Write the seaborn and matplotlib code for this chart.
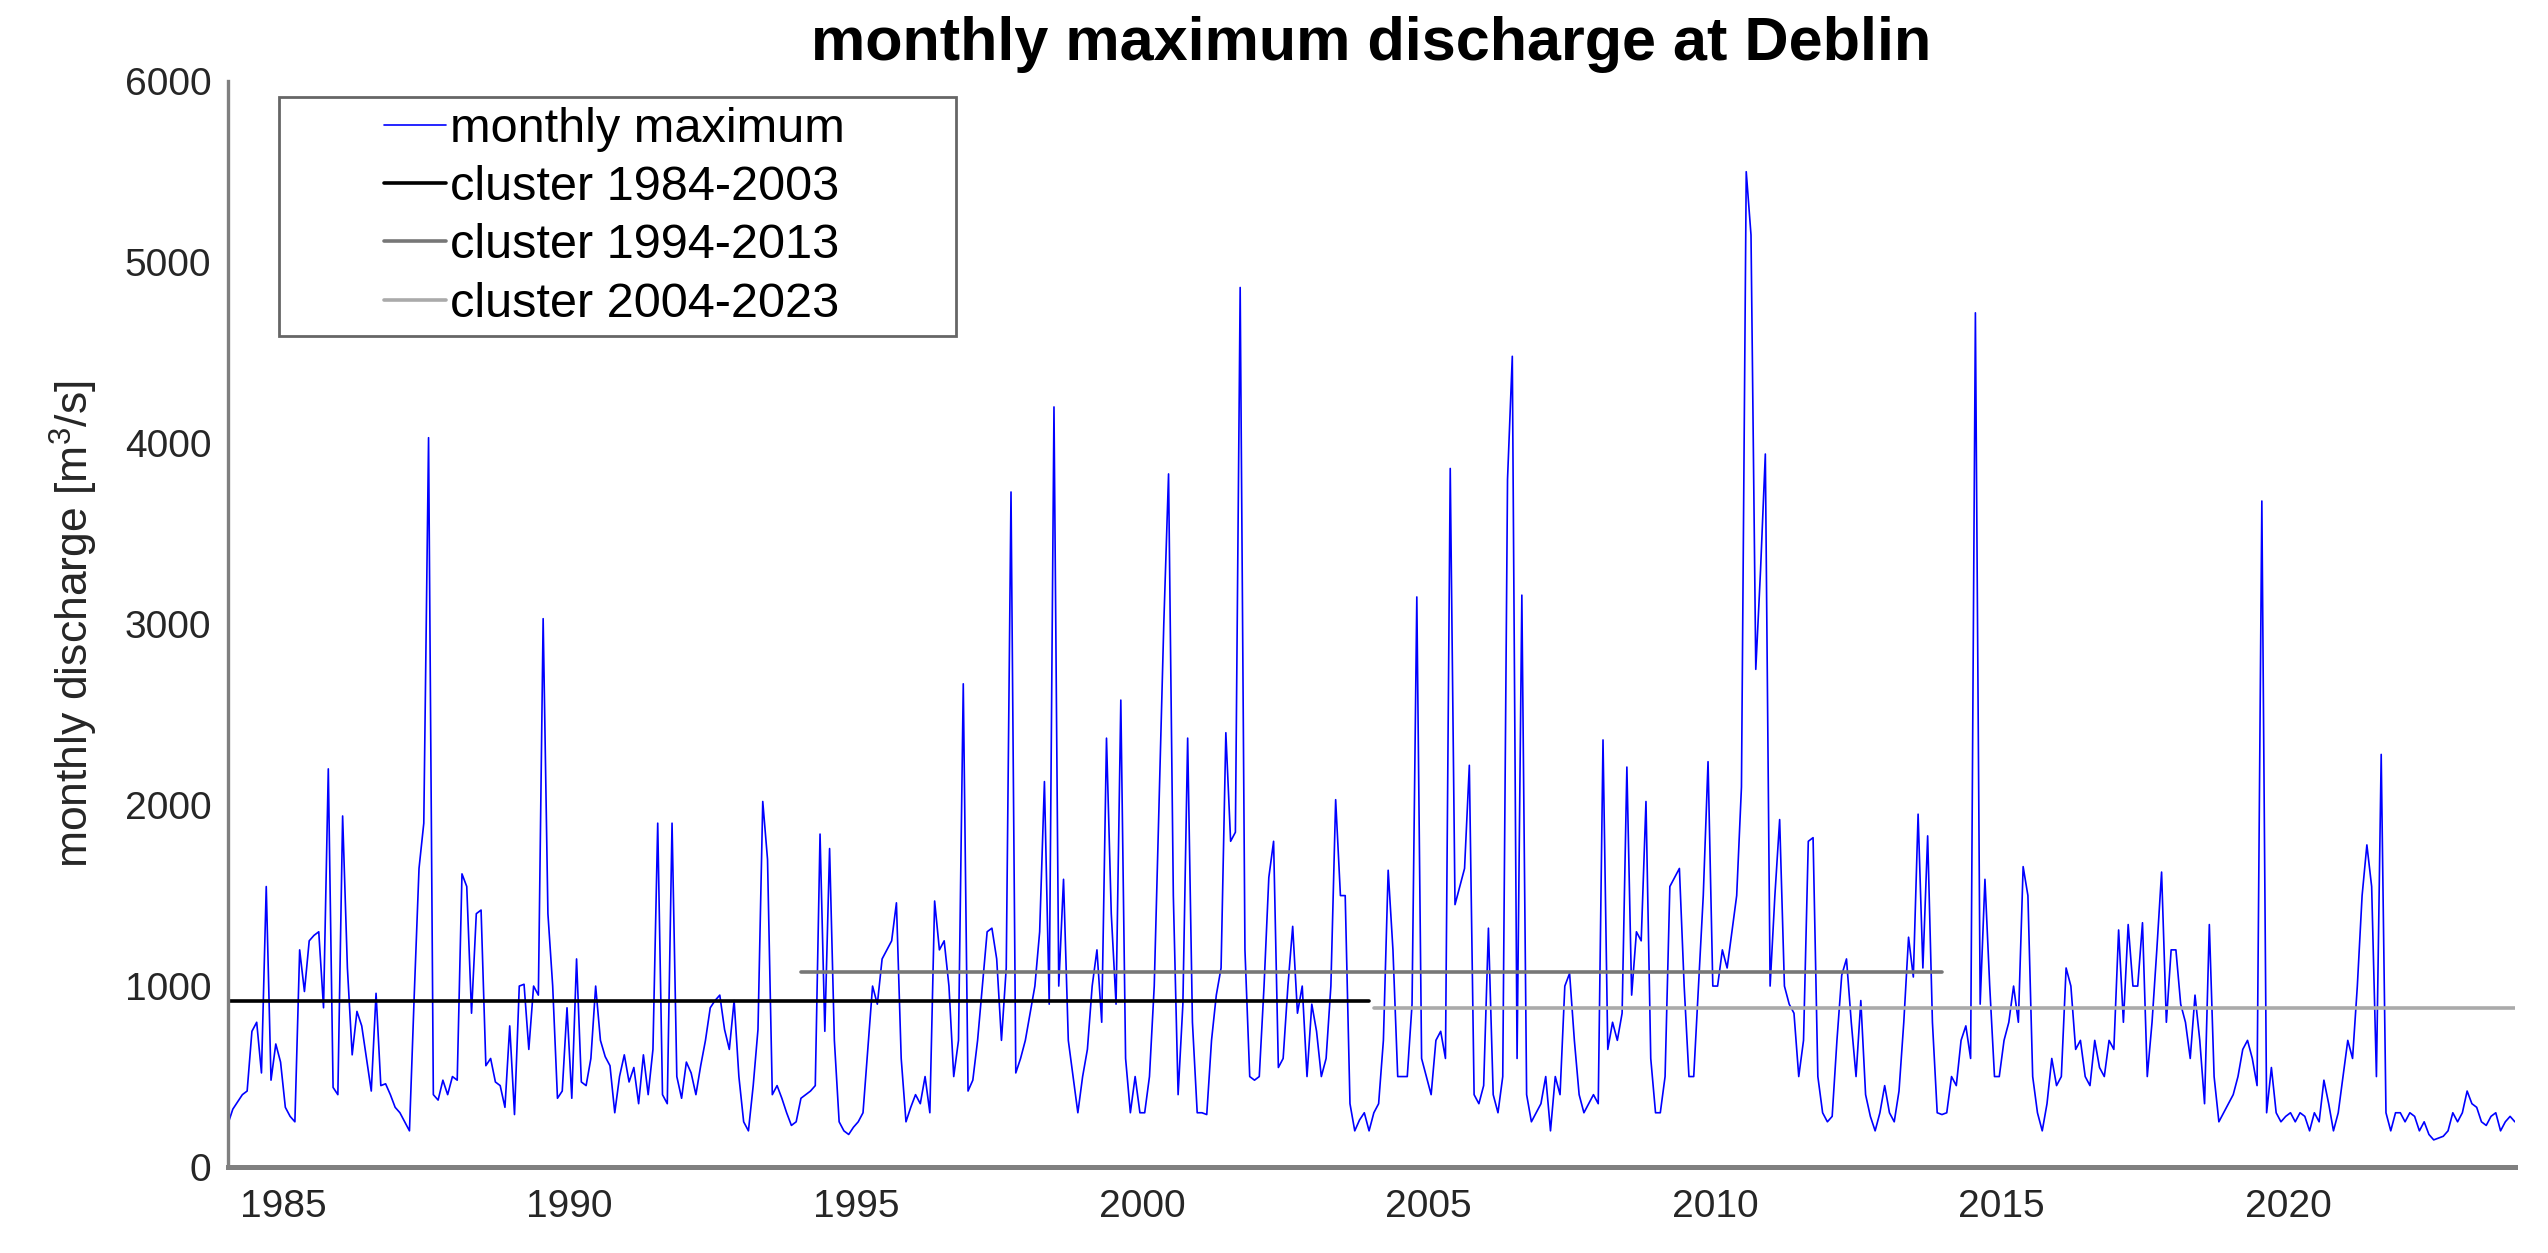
import numpy as np
import pandas as pd
import matplotlib
matplotlib.use("Agg")
import matplotlib.pyplot as plt
import seaborn as sns
from matplotlib.legend_handler import HandlerLine2D

# --- DATA: monthly maximum discharge at Deblin [m3/s], one row per year ---
q_1984_1993 = [
    240, 320, 360, 400, 420, 750, 800, 520, 1550, 480, 680, 580,
    330, 280, 250, 1200, 970, 1250, 1280, 1300, 880, 2200, 440, 400,
    1940, 1100, 620, 860, 780, 600, 420, 960, 450, 460, 400, 330,
    300, 250, 200, 950, 1650, 1900, 4030, 400, 370, 480, 400, 500,
    480, 1620, 1550, 850, 1400, 1420, 560, 600, 470, 450, 330, 780,
    290, 1000, 1010, 650, 1000, 950, 3030, 1400, 1000, 380, 420, 880,
    380, 1150, 470, 450, 600, 1000, 700, 610, 560, 300, 500, 620,
    470, 550, 350, 620, 400, 650, 1900, 400, 350, 1900, 500, 380,
    580, 520, 400, 560, 700, 880, 920, 950, 760, 650, 920, 500,
    250, 200, 450, 760, 2020, 1700, 400, 450, 380, 300, 230, 250,
]
q_1994_2003 = [
    380, 400, 420, 450, 1840, 750, 1760, 700, 250, 200, 180, 220,
    250, 300, 650, 1000, 900, 1150, 1200, 1250, 1460, 600, 250, 330,
    400, 350, 500, 300, 1470, 1200, 1250, 1000, 500, 700, 2670, 420,
    480, 700, 1000, 1300, 1320, 1150, 700, 1100, 3730, 520, 600, 700,
    850, 1000, 1300, 2130, 900, 4200, 1000, 1590, 700, 500, 300, 500,
    650, 1000, 1200, 800, 2370, 1400, 900, 2580, 600, 300, 500, 300,
    300, 500, 1000, 2000, 3000, 3830, 1500, 400, 900, 2370, 800, 300,
    300, 290, 700, 950, 1100, 2400, 1800, 1850, 4860, 1200, 500, 480,
    500, 1000, 1600, 1800, 550, 600, 1000, 1330, 850, 1000, 500, 900,
    750, 500, 600, 1000, 2030, 1500, 1500, 350, 200, 260, 300, 200,
]
q_2004_2013 = [
    300, 350, 700, 1640, 1200, 500, 500, 500, 900, 3150, 600, 500,
    400, 700, 750, 600, 3860, 1450, 1550, 1650, 2220, 400, 350, 450,
    1320, 400, 300, 500, 3800, 4480, 600, 3160, 400, 250, 300, 350,
    500, 200, 500, 400, 1000, 1070, 700, 400, 300, 350, 400, 350,
    2360, 650, 800, 700, 850, 2210, 950, 1300, 1250, 2020, 600, 300,
    300, 500, 1550, 1600, 1650, 1000, 500, 500, 1000, 1500, 2240, 1000,
    1000, 1200, 1100, 1300, 1500, 2100, 5500, 5150, 2750, 3300, 3940, 1000,
    1500, 1920, 1000, 900, 850, 500, 700, 1800, 1820, 500, 300, 250,
    280, 700, 1060, 1150, 800, 500, 920, 400, 280, 200, 300, 450,
    300, 250, 420, 800, 1270, 1050, 1950, 1100, 1830, 800, 300, 290,
]
q_2014_2023 = [
    300, 500, 450, 700, 780, 600, 4720, 900, 1590, 1000, 500, 500,
    700, 800, 1000, 800, 1660, 1500, 500, 300, 200, 350, 600, 450,
    500, 1100, 1000, 650, 700, 500, 450, 700, 550, 500, 700, 650,
    1310, 800, 1340, 1000, 1000, 1350, 500, 800, 1200, 1630, 800, 1200,
    1200, 900, 800, 600, 950, 700, 350, 1340, 500, 250, 300, 350,
    400, 500, 650, 700, 600, 450, 3680, 300, 550, 300, 250, 280,
    300, 250, 300, 280, 200, 300, 250, 480, 350, 200, 300, 500,
    700, 600, 1000, 1500, 1780, 1550, 500, 2280, 300, 200, 300, 300,
    250, 300, 280, 200, 250, 180, 150, 160, 170, 200, 300, 250,
    300, 420, 350, 330, 250, 230, 280, 300, 200, 250, 280, 250,
]

first_year = 1984
last_year = 2023

# cluster mean levels
cluster_labels = ["cluster 1984-2003", "cluster 1994-2013", "cluster 2004-2023"]
cluster_start = [1984, 1994, 2004]
cluster_end = [2003, 2013, 2023]
cluster_level = [915, 1075, 880]
cluster_colors = ["black", "#777777", "#aaaaaa"]

# --- BUILD TABLES ---
discharge = q_1984_1993 + q_1994_2003 + q_2004_2013 + q_2014_2023
years = np.arange(first_year, last_year + 1)
df = pd.DataFrame({
    "year": np.repeat(years, 12),
    "month": np.tile(np.arange(12), len(years)),
    "q": discharge,
})
df["t"] = df["year"] + (df["month"] + 0.5) / 12

# --- PLOT ---
sns.set_theme(style="white")
plt.rcParams["font.family"] = ["Liberation Sans", "DejaVu Sans"]
plt.rcParams["mathtext.fontset"] = "custom"
plt.rcParams["mathtext.rm"] = "Liberation Sans"

fig = plt.figure(figsize=(12.74, 6.265), dpi=200)
ax = fig.add_axes([0.0895, 0.0686, 0.8975, 0.8666])

sns.lineplot(data=df, x="t", y="q", color="blue", linewidth=0.6,
             label="monthly maximum", ax=ax)

for lab, y0, y1, lev, col in zip(cluster_labels, cluster_start, cluster_end,
                                 cluster_level, cluster_colors):
    sub = df[(df["year"] >= y0) & (df["year"] <= y1)]
    seg = pd.DataFrame({"t": [sub["t"].min(), sub["t"].max()], "q": [lev, lev]})
    sns.lineplot(data=seg, x="t", y="q", color=col, linewidth=1.3,
                 label=lab, ax=ax)

ax.set_xlim(df["t"].min(), df["t"].max())
ax.set_ylim(0, 6000)
ax.set_xticks(np.arange(1985, 2021, 5))
ax.set_yticks(np.arange(0, 6001, 1000))

for s in ["top", "right"]:
    ax.spines[s].set_visible(False)
for s in ["left", "bottom"]:
    ax.spines[s].set_color("#808080")
    ax.spines[s].set_linewidth(1.2)
ax.spines["bottom"].set_linewidth(1.8)

ax.tick_params(direction="in", length=8, width=0.8, color="#808080",
               labelsize=14, labelcolor="#262626")
ax.tick_params(axis="x", pad=8)
ax.tick_params(axis="y", pad=6)

ax.set_xlabel("")
ax.set_ylabel(r"monthly discharge [m$^{3}$/s]", fontsize=16, color="#262626")
ax.yaxis.set_label_coords(-0.056, 0.5)
ax.set_title("monthly maximum discharge at Deblin", fontsize=22,
             fontweight="bold", color="black", pad=7.5)

leg = ax.legend(loc="upper left", bbox_to_anchor=(0.0223, 0.768, 0.296, 0.217),
                mode="expand", borderaxespad=0, fontsize=17.5,
                frameon=True, fancybox=False, framealpha=1,
                edgecolor="#666666", borderpad=0.2, labelspacing=0.27,
                handlelength=3.24, handletextpad=0.08,
                handler_map={plt.Line2D: HandlerLine2D(xpad=1.96)})
leg.get_frame().set_linewidth(1.0)
for txt in leg.get_texts():
    txt.set_color("black")

fig.savefig("out.png", dpi=200)
